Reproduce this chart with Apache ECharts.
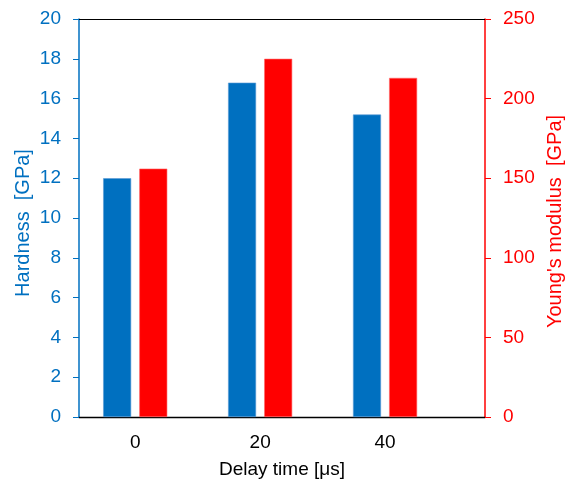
<!DOCTYPE html>
<html><head><meta charset="utf-8">
<script src="https://cdn.jsdelivr.net/npm/echarts@6/dist/echarts.min.js"></script>
<style>html,body{margin:0;padding:0;background:#fff}#c{width:565px;height:479px}</style>
</head><body><div id="c"></div>
<script>
const delayTimes = [0, 20, 40];
const hardness = [12.0, 16.8, 15.2];
const youngsModulus = [156, 225, 213];
const xTicks = [0, 20, 40];

const blue = '#0070C0', red = '#FF0000';
const font = 'Liberation Sans, Arial, sans-serif';
const chart = echarts.init(document.getElementById('c'), null, {renderer: 'canvas'});
chart.setOption({
  animation: false,
  grid: {left: 79, right: 80, top: 19, bottom: 62, outerBoundsMode: 'none', containLabel: false},
  xAxis: [{
    type: 'value', min: -9, max: 56,
    name: 'Delay time [μs]', nameLocation: 'middle', nameGap: 43, nameMoveOverlap: false,
    nameTextStyle: {color: '#000', fontSize: 19, fontFamily: font},
    axisLine: {show: true, onZero: false, lineStyle: {color: '#000', width: 1.3}},
    axisTick: {show: false},
    splitLine: {show: false},
    axisLabel: {customValues: xTicks, color: '#000', fontSize: 19, fontFamily: font, margin: 16}
  }, {
    type: 'value', min: -9, max: 56, position: 'top',
    axisLine: {show: true, onZero: false, lineStyle: {color: '#000', width: 1}},
    axisTick: {show: false}, axisLabel: {show: false}, splitLine: {show: false}
  }],
  yAxis: [{
    type: 'value', min: 0, max: 20, interval: 2, position: 'left',
    name: 'Hardness  [GPa]', nameLocation: 'middle', nameGap: 46, nameMoveOverlap: false,
    nameTextStyle: {color: blue, fontSize: 20, fontFamily: font, padding: [0, 10, 0, 0]},
    axisLine: {show: true, onZero: false, lineStyle: {color: blue, width: 1.5}},
    axisTick: {show: true, length: 6, lineStyle: {color: blue}},
    axisLabel: {color: blue, fontSize: 19, fontFamily: font, margin: 18},
    splitLine: {show: false}
  }, {
    type: 'value', min: 0, max: 250, interval: 50, position: 'right',
    name: "Young's modulus  [GPa]", nameLocation: 'middle', nameGap: 60, nameMoveOverlap: false,
    nameTextStyle: {color: red, fontSize: 20, fontFamily: font, padding: [0, 7, 0, 0]},
    axisLine: {show: true, onZero: false, lineStyle: {color: red, width: 1.5}},
    axisTick: {show: true, length: 6, lineStyle: {color: red}},
    axisLabel: {color: red, fontSize: 19, fontFamily: font, margin: 18},
    splitLine: {show: false}
  }],
  series: [{
    type: 'bar', xAxisIndex: 0, yAxisIndex: 0,
    data: delayTimes.map((t, i) => [t, hardness[i]]),
    barWidth: 28, barGap: '29%',
    itemStyle: {color: blue, borderColor: '#5B9BD5', borderWidth: 0.6}
  }, {
    type: 'bar', xAxisIndex: 0, yAxisIndex: 1,
    data: delayTimes.map((t, i) => [t, youngsModulus[i]]),
    barWidth: 28, barGap: '29%',
    itemStyle: {color: red, borderColor: '#FF6666', borderWidth: 0.6}
  }]
});
</script></body></html>
